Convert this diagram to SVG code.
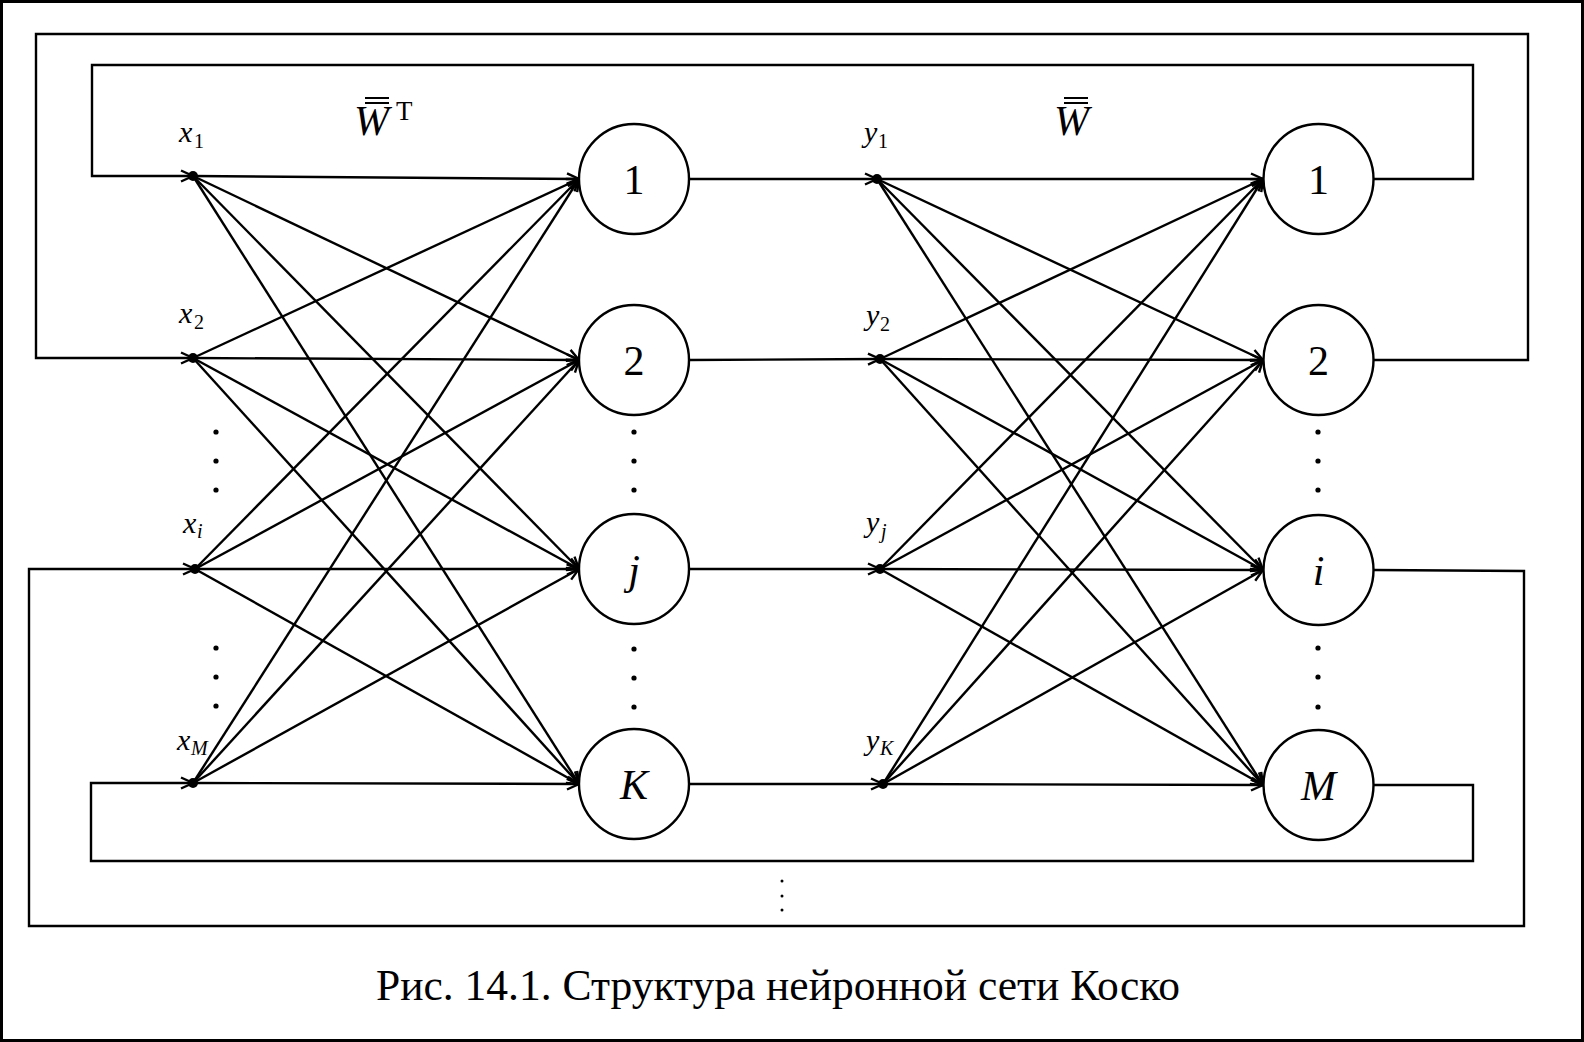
<svg xmlns="http://www.w3.org/2000/svg" width="1584" height="1042" viewBox="0 0 1584 1042">
<style>
.ln{fill:none;stroke:#000;stroke-width:2.4}
.nd{fill:#fff;stroke:#000;stroke-width:2.4}
.lbl{font-family:"Liberation Serif","Times New Roman",serif;fill:#000}
.it{font-style:italic}
.big{font-size:42px}
.var{font-size:30px}
.sub{font-size:20px}
.dot{fill:#000}
</style>
<defs>
<marker id="arr" markerUnits="userSpaceOnUse" markerWidth="16" markerHeight="14" refX="13" refY="7" orient="auto" overflow="visible">
<path d="M1,1.5 L13,7 L1,12.5" fill="none" stroke="#000" stroke-width="2.4"/>
</marker>
</defs>
<rect x="0" y="0" width="1584" height="1042" fill="#fff"/>
<rect x="1.5" y="1.5" width="1581" height="1039" fill="none" stroke="#000" stroke-width="3"/>

<g id="connectors">
<!-- feedback loops -->
<path class="ln" marker-end="url(#arr)" d="M1374,179 H1473 V65 H92 V176 H193"/>
<path class="ln" marker-end="url(#arr)" d="M1374,360 H1528 V34 H36 V358 H193"/>
<path class="ln" marker-end="url(#arr)" d="M1374,570 L1524,571 V926 H29 V569 H195"/>
<path class="ln" marker-end="url(#arr)" d="M1374,785 H1473 V861 H91 V783 H193"/>
<g marker-end="url(#arr)">
<!-- x to first layer -->
<line class="ln" x1="193" y1="176" x2="579" y2="179"/>
<line class="ln" x1="193" y1="176" x2="579" y2="360"/>
<line class="ln" x1="193" y1="176" x2="579" y2="569"/>
<line class="ln" x1="193" y1="176" x2="579" y2="784"/>
<line class="ln" x1="193" y1="358" x2="579" y2="179"/>
<line class="ln" x1="193" y1="358" x2="579" y2="360"/>
<line class="ln" x1="193" y1="358" x2="579" y2="569"/>
<line class="ln" x1="193" y1="358" x2="579" y2="784"/>
<line class="ln" x1="195" y1="569" x2="579" y2="179"/>
<line class="ln" x1="195" y1="569" x2="579" y2="360"/>
<line class="ln" x1="195" y1="569" x2="579" y2="569"/>
<line class="ln" x1="195" y1="569" x2="579" y2="784"/>
<line class="ln" x1="193" y1="783" x2="579" y2="179"/>
<line class="ln" x1="193" y1="783" x2="579" y2="360"/>
<line class="ln" x1="193" y1="783" x2="579" y2="569"/>
<line class="ln" x1="193" y1="783" x2="579" y2="784"/>
<!-- layer 1 outputs to y -->
<line class="ln" x1="689" y1="179" x2="877" y2="179"/>
<line class="ln" x1="689" y1="360" x2="880" y2="359"/>
<line class="ln" x1="689" y1="569" x2="880" y2="569"/>
<line class="ln" x1="689" y1="784" x2="883" y2="784"/>
<!-- y to second layer -->
<line class="ln" x1="877" y1="179" x2="1263" y2="179"/>
<line class="ln" x1="877" y1="179" x2="1263" y2="360"/>
<line class="ln" x1="877" y1="179" x2="1263" y2="570"/>
<line class="ln" x1="877" y1="179" x2="1263" y2="785"/>
<line class="ln" x1="880" y1="359" x2="1263" y2="179"/>
<line class="ln" x1="880" y1="359" x2="1263" y2="360"/>
<line class="ln" x1="880" y1="359" x2="1263" y2="570"/>
<line class="ln" x1="880" y1="359" x2="1263" y2="785"/>
<line class="ln" x1="880" y1="569" x2="1263" y2="179"/>
<line class="ln" x1="880" y1="569" x2="1263" y2="360"/>
<line class="ln" x1="880" y1="569" x2="1263" y2="570"/>
<line class="ln" x1="880" y1="569" x2="1263" y2="785"/>
<line class="ln" x1="883" y1="784" x2="1263" y2="179"/>
<line class="ln" x1="883" y1="784" x2="1263" y2="360"/>
<line class="ln" x1="883" y1="784" x2="1263" y2="570"/>
<line class="ln" x1="883" y1="784" x2="1263" y2="785"/>
</g>
</g>

<!-- input nodes x -->
<g id="x1"><circle class="dot" cx="193" cy="176" r="5"/><text class="lbl it var" x="179" y="142">x</text><text class="lbl sub" x="194" y="148">1</text></g>
<g id="x2"><circle class="dot" cx="193" cy="358" r="5"/><text class="lbl it var" x="179" y="323">x</text><text class="lbl sub" x="194" y="329">2</text></g>
<g id="xi"><circle class="dot" cx="195" cy="569" r="5"/><text class="lbl it var" x="183" y="533">x</text><text class="lbl it sub" x="197" y="538">i</text></g>
<g id="xM"><circle class="dot" cx="193" cy="783" r="5"/><text class="lbl it var" x="177" y="750">x</text><text class="lbl it sub" x="191" y="755">M</text></g>

<!-- y nodes -->
<g id="y1"><circle class="dot" cx="877" cy="179" r="5"/><text class="lbl it var" x="864" y="142">y</text><text class="lbl sub" x="878" y="148">1</text></g>
<g id="y2"><circle class="dot" cx="880" cy="359" r="5"/><text class="lbl it var" x="866" y="325">y</text><text class="lbl sub" x="880" y="331">2</text></g>
<g id="yj"><circle class="dot" cx="880" cy="569" r="5"/><text class="lbl it var" x="866" y="532">y</text><text class="lbl it sub" x="881" y="538">j</text></g>
<g id="yK"><circle class="dot" cx="883" cy="784" r="5"/><text class="lbl it var" x="866" y="750">y</text><text class="lbl it sub" x="880" y="755">K</text></g>

<!-- first layer neurons -->
<g id="n1"><circle class="nd" cx="634" cy="179" r="55"/><text class="lbl big" x="634" y="194" text-anchor="middle">1</text></g>
<g id="n2"><circle class="nd" cx="634" cy="360" r="55"/><text class="lbl big" x="634" y="375" text-anchor="middle">2</text></g>
<g id="nj"><circle class="nd" cx="634" cy="569" r="55"/><text class="lbl big it" x="634" y="584" text-anchor="middle">j</text></g>
<g id="nK"><circle class="nd" cx="634" cy="784" r="55"/><text class="lbl big it" x="634" y="799" text-anchor="middle">K</text></g>

<!-- second layer neurons -->
<g id="m1"><circle class="nd" cx="1318.5" cy="179" r="55"/><text class="lbl big" x="1318.5" y="194" text-anchor="middle">1</text></g>
<g id="m2"><circle class="nd" cx="1318.5" cy="360" r="55"/><text class="lbl big" x="1318.5" y="375" text-anchor="middle">2</text></g>
<g id="mi"><circle class="nd" cx="1318.5" cy="570" r="55"/><text class="lbl big it" x="1318.5" y="585" text-anchor="middle">i</text></g>
<g id="mM"><circle class="nd" cx="1318.5" cy="785" r="55"/><text class="lbl big it" x="1318.5" y="800" text-anchor="middle">M</text></g>

<!-- weight labels -->
<g id="WT">
<text class="lbl it" style="font-size:42px" x="354" y="135">W</text>
<line x1="365" y1="98" x2="389" y2="98" stroke="#000" stroke-width="2"/>
<line x1="365" y1="103" x2="389" y2="103" stroke="#000" stroke-width="2"/>
<text class="lbl" style="font-size:27px" x="396" y="120">T</text>
</g>
<g id="W">
<text class="lbl it" style="font-size:42px" x="1054" y="135">W</text>
<line x1="1064" y1="98" x2="1088" y2="98" stroke="#000" stroke-width="2"/>
<line x1="1064" y1="103" x2="1088" y2="103" stroke="#000" stroke-width="2"/>
</g>

<!-- ellipsis dots -->
<g id="ellipses">
<circle class="dot" cx="216" cy="432" r="2.6"/><circle class="dot" cx="216" cy="461" r="2.6"/><circle class="dot" cx="216" cy="490" r="2.6"/>
<circle class="dot" cx="216" cy="648" r="2.6"/><circle class="dot" cx="216" cy="677" r="2.6"/><circle class="dot" cx="216" cy="706" r="2.6"/>
<circle class="dot" cx="634" cy="432" r="2.6"/><circle class="dot" cx="634" cy="461" r="2.6"/><circle class="dot" cx="634" cy="490" r="2.6"/>
<circle class="dot" cx="634" cy="649" r="2.6"/><circle class="dot" cx="634" cy="678" r="2.6"/><circle class="dot" cx="634" cy="707" r="2.6"/>
<circle class="dot" cx="1318" cy="432" r="2.6"/><circle class="dot" cx="1318" cy="461" r="2.6"/><circle class="dot" cx="1318" cy="490" r="2.6"/>
<circle class="dot" cx="1318" cy="648" r="2.6"/><circle class="dot" cx="1318" cy="677" r="2.6"/><circle class="dot" cx="1318" cy="707" r="2.6"/>
<circle class="dot" cx="782" cy="881" r="1.5"/><circle class="dot" cx="782" cy="896" r="1.5"/><circle class="dot" cx="782" cy="910" r="1.5"/>
</g>

<text id="caption" class="lbl" style="font-size:43.5px" x="778" y="1000" text-anchor="middle">Рис. 14.1. Структура нейронной сети Коско</text>
</svg>
